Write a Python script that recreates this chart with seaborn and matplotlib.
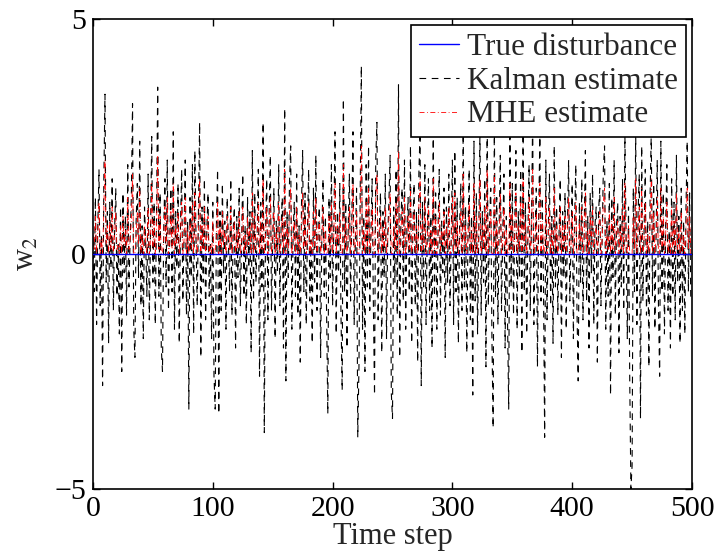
import numpy as np
import pandas as pd
import matplotlib
matplotlib.use("Agg")
import matplotlib.pyplot as plt
import seaborn as sns

# ---- data ----
kalman = [
    0.3, -0.8, 1.2, -1.5, 0.6, 1.8, -1.1, 0.4, -2.8, 1.5, 3.4, -0.6, 0.9, -1.9, 1.1, -0.3, 1.6, -1.2, 0.5, 1.4, -0.9, 0.2, -1.7, 1.0, -2.5,
    1.3, -0.4, 0.8, -1.3, 1.9, -0.7, 0.3, 1.2, 3.2, -1.6, -2.2, 0.7, 1.5, -0.5, 2.4, -1.1, 0.6, -1.8, 1.0, 0.2, -0.9, 1.7, -1.4, 0.4, 2.5,
    -0.6, 1.1, -1.5, 0.8, 3.55, -0.9, 1.3, -2.0, -2.5, 0.5, 1.6, -0.7, 2.0, -1.2, 0.3, 1.4, -0.8, 2.6, -1.6, 0.9, -0.3, 1.5, -1.9, 0.6, 1.8,
    -1.0, 0.4, 2.0, -1.3, 0.7, -3.3, 1.2, -0.5, 1.9, -1.7, 2.2, 0.3, -1.1, 0.8, 2.8, -2.2, 1.0, -0.6, 1.6, -1.4, 0.5, 1.3, -0.9, 0.2, -1.8,
    1.1, -2.6, -3.3, 0.6, 1.8, -3.4, 0.9, -1.2, 1.5, -0.4, 0.7, -1.6, 1.2, 0.3, -0.8, 1.6, -1.3, 0.5, 1.0, -2.0, 0.8, -0.5, 1.4, -1.1, 0.2,
    1.7, -0.9, 0.6, -1.5, 1.2, -0.3, 0.9, -2.1, 2.2, -1.0, 1.3, -0.6, 0.4, 1.8, -2.6, 1.1, -0.7, 2.8, -3.8, 0.5, 1.6, -1.4, 0.8, 2.1, -1.2,
    0.3, 1.4, -1.8, 0.7, -0.4, 1.9, -1.1, 0.6, 1.2, -2.0, 3.1, -2.7, 0.9, -0.5, 1.5, 2.3, -1.6, 0.4, 1.1, -0.9, 1.7, -1.3, 0.6, -2.3, 1.0,
    2.2, -0.8, 1.3, -1.5, 0.5, 1.8, -1.0, 0.3, -1.9, 1.4, -0.6, 2.1, -1.2, 0.7, 1.0, -2.2, 0.4, 1.6, -0.9, 0.8, -1.4, -3.4, 1.2, -0.5, 1.9,
    -1.1, 0.6, 2.6, -1.7, 0.9, -0.4, 1.5, -1.3, -2.9, 3.3, -0.8, 1.1, -2.0, 0.5, 1.7, -1.0, 0.7, 2.6, -1.5, 0.3, 1.4, -3.9, -2.4, 1.2, 4.0,
    -1.6, 0.8, -2.5, 1.9, -0.7, 2.3, -1.2, 0.5, 1.6, -1.0, -3.0, 2.0, 2.8, -1.4, 0.6, 1.3, -2.1, 0.9, -0.5, 1.7, -1.8, 0.4, 1.1, 2.1, -2.95,
    -3.5, 1.0, -0.6, 1.8, -1.3, 3.6, -2.2, 0.7, 1.4, -1.0, 2.0, -1.6, 0.5, 1.2, -0.8, 2.3, -1.9, 0.6, 1.5, -1.1, 0.9, -2.3, 1.7, 2.6, -2.8,
    1.1, -0.7, 1.9, -1.5, 0.4, 1.6, -1.2, 0.8, -2.0, 2.6, -0.9, 1.3, -1.6, 0.5, 1.8, -1.3, 0.7, -0.4, 1.4, -2.2, 1.0, -0.6, 1.7, -1.1, 0.3,
    2.0, -1.5, 2.2, -0.8, 1.2, -1.9, 0.6, 1.5, -1.2, 2.7, -0.7, 1.0, -2.1, 0.4, 1.8, -1.4, 0.8, -3.0, 2.4, -1.0, 1.3, -1.7, 0.5, 2.6, -1.3,
    0.9, -0.6, 1.6, -2.4, 3.0, -1.1, 0.7, 1.4, -1.8, -3.7, 2.8, -0.9, 1.2, -1.5, 0.6, 2.1, -1.2, 0.4, 1.7, -2.0, 0.8, -1.4, -3.3, 2.5, -0.7,
    1.5, -1.3, 0.6, 2.2, -1.6, 0.9, -0.5, 1.8, -2.1, 2.7, -0.8, 1.1, -1.7, 0.4, 1.9, -1.2, 0.7, 2.9, -1.5, 0.3, 1.4, -2.4, 0.8, 2.5, -1.0,
    1.2, -0.6, -3.9, 2.0, -1.4, 0.5, 1.7, -1.1, 0.8, -1.9, 2.3, -0.7, 1.0, -1.3, 0.4, 1.6, -2.2, 0.9, -0.5, 1.3, -1.6, 0.6, 2.0, -1.0, 0.3,
    1.5, -1.8, 0.7, 1.9, -1.2, -2.7, 1.1, -0.6, 1.6, -1.4, 0.5, 2.2, -1.0, 0.8, -2.0, 1.3, -0.4, 1.7, -1.5, 0.6, 1.0, -2.3, 0.9, 1.4, -1.1,
    0.4, 1.8, 2.3, -1.6, 0.7, -0.9, 1.5, -3.0, 1.2, -0.5, 2.0, -1.3, 0.6, 1.1, -2.1, 0.8, -0.7, 1.6, -1.2, 2.5, 0.3, -1.8, 1.0, -2.6, -5.0,
    -4.5, 1.4, -0.8, 2.6, -1.5, 0.9, 1.7, -3.5, 2.3, -1.0, 0.5, 1.8, -1.3, 0.7, -2.4, 1.2, 2.6, -0.9, 1.5, -1.6, 0.4, 2.0, -1.1, -2.6, 2.4,
    -0.8, 1.3, -1.7, 0.6, 1.9, -1.2, 0.5, -2.0, 1.6, -0.9, 1.1, -1.4, 2.1, -0.6, 0.8, -1.9, 1.4, -1.2, 0.7, -1.7, 1.0, 2.4, -0.8, 1.3, -1.0,
]

mhe = [
    0.4, 0.1, 0.8, 0.0, 0.5, 1.1, 0.0, 0.3, 0.0, 0.9, 2.0, 0.2, 0.6, 0.0, 0.7, 0.1, 1.0, 0.0, 0.4, 0.9, 0.1, 0.2, 0.0, 0.6, 0.0,
    0.8, 0.2, 0.5, 0.0, 1.2, 0.1, 0.3, 0.7, 1.7, 0.0, 0.0, 0.4, 0.9, 0.2, 1.4, 0.0, 0.4, 0.0, 0.6, 0.2, 0.0, 1.0, 0.0, 0.3, 1.5,
    0.1, 0.7, 0.0, 0.5, 2.1, 0.1, 0.8, 0.0, 0.0, 0.3, 1.0, 0.2, 1.2, 0.0, 0.2, 0.9, 0.1, 1.5, 0.0, 0.6, 0.2, 0.9, 0.0, 0.4, 1.1,
    0.0, 0.3, 1.2, 0.0, 0.5, 0.0, 0.7, 0.1, 1.1, 0.0, 1.3, 0.3, 0.0, 0.5, 1.6, 0.0, 0.6, 0.1, 1.0, 0.0, 0.4, 0.8, 0.0, 0.2, 0.0,
    0.7, 0.0, 0.0, 0.4, 1.1, 0.0, 0.6, 0.0, 0.9, 0.2, 0.5, 0.0, 0.8, 0.3, 0.1, 1.0, 0.0, 0.4, 0.7, 0.0, 0.5, 0.1, 0.9, 0.0, 0.2,
    1.0, 0.0, 0.4, 0.0, 0.8, 0.2, 0.6, 0.0, 1.3, 0.0, 0.8, 0.1, 0.3, 1.1, 0.0, 0.7, 0.1, 1.6, 0.0, 0.4, 1.0, 0.0, 0.5, 1.2, 0.0,
    0.3, 0.9, 0.0, 0.5, 0.1, 1.1, 0.0, 0.4, 0.8, 0.0, 1.8, 0.0, 0.6, 0.1, 0.9, 1.4, 0.0, 0.3, 0.7, 0.0, 1.0, 0.0, 0.4, 0.0, 0.6,
    1.3, 0.1, 0.8, 0.0, 0.4, 1.1, 0.0, 0.3, 0.0, 0.9, 0.1, 1.2, 0.0, 0.5, 0.7, 0.0, 0.3, 1.0, 0.0, 0.5, 0.0, 0.0, 0.8, 0.1, 1.1,
    0.0, 0.4, 1.5, 0.0, 0.6, 0.2, 0.9, 0.0, 0.0, 1.9, 0.1, 0.7, 0.0, 0.4, 1.0, 0.0, 0.5, 1.5, 0.0, 0.3, 0.9, 0.0, 0.0, 0.8, 2.3,
    0.0, 0.5, 0.0, 1.1, 0.1, 1.4, 0.0, 0.3, 1.0, 0.0, 0.0, 1.2, 1.7, 0.0, 0.4, 0.8, 0.0, 0.6, 0.1, 1.0, 0.0, 0.3, 0.7, 1.3, 0.0,
    0.0, 0.6, 0.1, 1.1, 0.0, 2.2, 0.0, 0.5, 0.9, 0.0, 1.2, 0.0, 0.3, 0.8, 0.1, 1.4, 0.0, 0.4, 0.9, 0.0, 0.6, 0.0, 1.0, 1.6, 0.0,
    0.7, 0.1, 1.2, 0.0, 0.3, 1.0, 0.0, 0.5, 0.0, 1.6, 0.0, 0.8, 0.0, 0.3, 1.1, 0.0, 0.5, 0.2, 0.9, 0.0, 0.6, 0.1, 1.0, 0.0, 0.2,
    1.2, 0.0, 1.3, 0.1, 0.7, 0.0, 0.4, 0.9, 0.0, 1.7, 0.1, 0.6, 0.0, 0.3, 1.1, 0.0, 0.5, 0.0, 1.5, 0.0, 0.8, 0.0, 0.3, 1.6, 0.0,
    0.6, 0.1, 1.0, 0.0, 1.8, 0.0, 0.4, 0.9, 0.0, 0.0, 1.7, 0.0, 0.7, 0.0, 0.4, 1.3, 0.0, 0.3, 1.0, 0.0, 0.5, 0.0, 0.0, 1.5, 0.1,
    0.9, 0.0, 0.4, 1.3, 0.0, 0.6, 0.1, 1.1, 0.0, 1.6, 0.1, 0.7, 0.0, 0.3, 1.2, 0.0, 0.4, 1.8, 0.0, 0.2, 0.9, 0.0, 0.5, 1.5, 0.0,
    0.7, 0.1, 0.0, 1.2, 0.0, 0.3, 1.0, 0.0, 0.5, 0.0, 1.4, 0.1, 0.6, 0.0, 0.3, 1.0, 0.0, 0.6, 0.1, 0.8, 0.0, 0.4, 1.2, 0.0, 0.2,
    0.9, 0.0, 0.4, 1.1, 0.0, 0.0, 0.7, 0.1, 1.0, 0.0, 0.3, 1.3, 0.0, 0.5, 0.0, 0.8, 0.2, 1.0, 0.0, 0.4, 0.6, 0.0, 0.5, 0.9, 0.0,
    0.3, 1.1, 1.4, 0.0, 0.4, 0.1, 0.9, 0.0, 0.7, 0.1, 1.2, 0.0, 0.4, 0.7, 0.0, 0.5, 0.1, 1.0, 0.0, 1.5, 0.2, 0.0, 0.6, 0.0, 0.0,
    0.0, 0.8, 0.1, 1.6, 0.0, 0.5, 1.0, 0.0, 1.4, 0.0, 0.3, 1.1, 0.0, 0.4, 0.0, 0.7, 1.6, 0.0, 0.9, 0.0, 0.3, 1.2, 0.0, 0.0, 1.4,
    0.1, 0.8, 0.0, 0.4, 1.1, 0.0, 0.3, 0.0, 1.0, 0.0, 0.7, 0.0, 1.3, 0.1, 0.5, 0.0, 0.9, 0.0, 0.4, 0.0, 0.6, 1.4, 0.1, 0.8, 0.0,
]

n_steps = len(kalman)
time_step = list(range(n_steps))
true_disturbance = [0.0] * n_steps

x_ticks = [0, 100, 200, 300, 400, 500]
y_ticks = [-5, 0, 5]
labels = ["True disturbance", "Kalman estimate", "MHE estimate"]

# ---- style ----
sns.set_style("ticks")
plt.rcParams["font.family"] = ["Liberation Serif", "DejaVu Serif"]
plt.rcParams["mathtext.fontset"] = "stix"

fig = plt.figure(figsize=(7.19, 5.60), dpi=100)
ax = fig.add_axes([93 / 719, 1 - 489 / 560, (692 - 93) / 719, (489 - 19) / 560])

df = pd.DataFrame({"t": time_step, "true": true_disturbance,
                   "kalman": kalman[:n_steps], "mhe": mhe[:n_steps]})

sns.lineplot(data=df, x="t", y="kalman", ax=ax, color="black", linewidth=0.8,
             estimator=None, sort=False, label=labels[1], dashes=False)
sns.lineplot(data=df, x="t", y="mhe", ax=ax, color="red", linewidth=0.6,
             estimator=None, sort=False, label=labels[2], dashes=False)
sns.lineplot(data=df, x="t", y="true", ax=ax, color="blue", linewidth=1.0,
             estimator=None, sort=False, label=labels[0], dashes=False)

lines = ax.get_lines()
lines[0].set_dashes((6, 5))
lines[1].set_dashes((6, 3, 1, 3))
lines[2].set_zorder(3)

ax.set_xlim(0, 500)
ax.set_ylim(-5, 5)
ax.set_xticks(x_ticks)
ax.set_yticks(y_ticks)
ax.set_yticklabels(["\u22125", "0", "5"])
ax.tick_params(direction="in", top=True, right=True, length=5, width=1.0,
               labelsize=21.5, pad=5, colors="black")
for s in ax.spines.values():
    s.set_visible(True)
    s.set_linewidth(1.2)
    s.set_color("black")

ax.set_xlabel("Time step", fontsize=22, labelpad=0)
ax.set_ylabel("w$_2$", fontsize=22, labelpad=10)

handles, _ = ax.get_legend_handles_labels()
order = [2, 0, 1]
leg = ax.legend([handles[i] for i in order], labels, loc="upper right",
                fontsize=22.5, frameon=True, fancybox=False, framealpha=1,
                edgecolor="black", handlelength=1.3, handletextpad=0.25,
                borderpad=0.25, labelspacing=0.15, borderaxespad=0.2)
leg.get_frame().set_linewidth(1.2)

fig.savefig("out.png", dpi=100)
